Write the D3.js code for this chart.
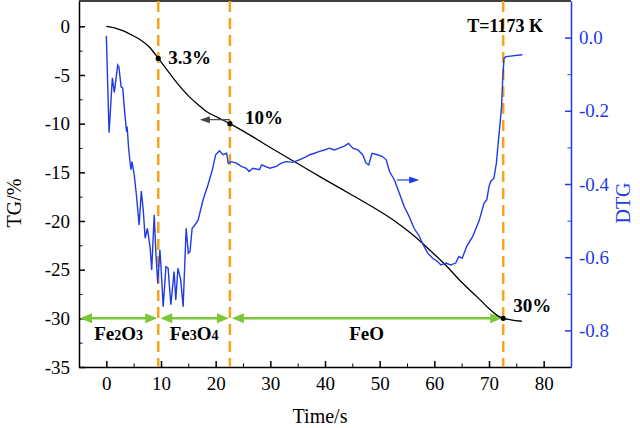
<!DOCTYPE html>
<html>
<head>
<meta charset="utf-8">
<script src="https://cdnjs.cloudflare.com/ajax/libs/d3/7.8.5/d3.min.js"></script>
<style>
  body { margin: 0; background: #fff; }
  svg { font-family: "Liberation Serif", "Times New Roman", serif; }
</style>
</head>
<body>
<svg id="chart" width="640" height="428"></svg>
<script>
// TG curve (time s, mass change %)
var tgTime = [0, 1.5, 3, 4.5, 6, 8, 9.5, 11, 12.2, 13.8, 15.3, 16.8, 18.3, 20.5, 22.6, 26.2, 30, 35, 40, 45, 50, 53, 56, 59, 62, 65, 68.2, 70, 71.8, 72.6, 74, 76];
var tgValue = [0, -0.15, -0.45, -0.85, -1.3, -2.2, -3.3, -4.4, -5.3, -6.4, -7.3, -8.05, -8.75, -9.4, -10.0, -11.15, -12.45, -14.1, -15.75, -17.35, -19.0, -20.1, -21.4, -22.9, -24.5, -26.3, -28.0, -29.0, -29.8, -30.0, -30.15, -30.3];

// DTG curve
var dtgTime = [0.0, 0.5, 1.1, 1.46, 2.08, 2.3, 2.7, 3.0, 3.4, 3.7, 3.8, 4.1, 4.5, 4.7, 5.1, 5.5, 6.0, 6.4, 6.75, 7.1, 7.5, 8.0, 8.3, 8.76, 9.07, 9.4, 9.8, 10.0, 10.4, 10.9, 11.3, 11.8, 12.4, 12.7, 13.1, 13.6, 14.05, 14.6, 15.0, 15.3, 15.7, 16.2, 16.8, 17.7, 18.6, 19.4, 20.0, 20.7, 21.35, 22.0, 22.3, 22.9, 23.8, 24.7, 25.6, 26.1, 26.8, 28.0, 28.4, 29.9, 31.1, 32.0, 32.9, 34.1, 35.3, 36.6, 37.2, 38.1, 39.0, 39.9, 40.8, 41.7, 42.6, 43.6, 44.3, 45.1, 46.0, 46.9, 47.5, 48.0, 48.6, 49.6, 50.5, 51.2, 51.8, 52.7, 53.6, 54.5, 55.4, 56.3, 57.3, 57.8, 58.8, 59.7, 60.6, 61.2, 62.1, 63.0, 63.9, 64.5, 65.1, 65.9, 67.0, 68.2, 69.1, 69.6, 70.0, 70.3, 70.9, 71.35, 71.8, 72.3, 72.5, 72.75, 73.1, 76.1];
var dtgValue = [0.005, -0.26, -0.11, -0.15, -0.075, -0.08, -0.134, -0.138, -0.211, -0.257, -0.243, -0.307, -0.361, -0.339, -0.375, -0.43, -0.512, -0.419, -0.471, -0.548, -0.521, -0.571, -0.635, -0.484, -0.589, -0.671, -0.58, -0.626, -0.735, -0.626, -0.63, -0.73, -0.639, -0.717, -0.63, -0.662, -0.735, -0.521, -0.589, -0.585, -0.521, -0.512, -0.498, -0.443, -0.402, -0.361, -0.32, -0.309, -0.32, -0.316, -0.343, -0.339, -0.343, -0.352, -0.357, -0.366, -0.357, -0.361, -0.348, -0.357, -0.352, -0.343, -0.339, -0.341, -0.334, -0.325, -0.32, -0.316, -0.311, -0.307, -0.302, -0.307, -0.302, -0.296, -0.289, -0.302, -0.307, -0.32, -0.343, -0.348, -0.316, -0.32, -0.325, -0.334, -0.366, -0.389, -0.425, -0.462, -0.489, -0.521, -0.544, -0.562, -0.589, -0.603, -0.612, -0.621, -0.616, -0.621, -0.616, -0.598, -0.603, -0.571, -0.544, -0.50, -0.452, -0.443, -0.407, -0.393, -0.384, -0.343, -0.27, -0.189, -0.116, -0.056, -0.052, -0.047];

// stage boundaries (time) and marked points
var phaseBounds = [-5, 9.5, 22.6, 72.6];
var phaseNames = [["Fe", "2", "O", "3"], ["Fe", "3", "O", "4"], ["FeO"]];
var markTime = [9.5, 22.6, 72.6];
var markTG = [-3.3, -10, -30];
var markLabel = ["3.3%", "10%", "30%"];

var xTicks = [0, 10, 20, 30, 40, 50, 60, 70, 80];
var yTicks = [0, -5, -10, -15, -20, -25, -30, -35];
var y2Ticks = [0.0, -0.2, -0.4, -0.6, -0.8];

var blue = "#1f3be6", orange = "#f4a51c", green = "#7cc63a";

var svg = d3.select("#chart");
var pL = 79, pR = 571, pT = 1, pB = 367;

var x = d3.scaleLinear().domain([-5, 85]).range([pL, pR]);
var y = d3.scaleLinear().domain([-35, 2.6]).range([pB, pT]);
var y2 = d3.scaleLinear().domain([-0.9, 0.1]).range([pB, pT]);

// frame top
svg.append("line").attr("x1", pL).attr("x2", pR).attr("y1", pT).attr("y2", pT)
  .attr("stroke", "#000").attr("stroke-width", 1.5);

// minor ticks
svg.append("g").attr("transform", "translate(0," + pB + ")")
  .call(d3.axisBottom(x).tickValues(d3.range(-5, 85, 10)).tickSize(-3.5).tickSizeOuter(0).tickFormat(""))
  .call(g => g.select(".domain").remove());
svg.append("g").attr("transform", "translate(" + pL + ",0)")
  .call(d3.axisLeft(y).tickValues(d3.range(-32.5, 2, 5)).tickSize(-3.5).tickSizeOuter(0).tickFormat(""))
  .call(g => g.select(".domain").remove());
svg.append("g").attr("transform", "translate(" + pR + ",0)")
  .call(d3.axisRight(y2).tickValues([-0.9, -0.7, -0.5, -0.3, -0.1]).tickSize(-3.5).tickSizeOuter(0).tickFormat(""))
  .call(g => g.select(".domain").remove())
  .selectAll("line").attr("stroke", blue);

// main axes
var gx = svg.append("g").attr("transform", "translate(0," + pB + ")")
  .call(d3.axisBottom(x).tickValues(xTicks).tickSize(-6).tickSizeOuter(0).tickPadding(10).tickFormat(d => d));
var gy = svg.append("g").attr("transform", "translate(" + pL + ",0)")
  .call(d3.axisLeft(y).tickValues(yTicks).tickSize(-6).tickSizeOuter(0).tickPadding(9).tickFormat(d => d));
var gy2 = svg.append("g").attr("transform", "translate(" + pR + ",0)")
  .call(d3.axisRight(y2).tickValues(y2Ticks).tickSize(-6).tickSizeOuter(0).tickPadding(8).tickFormat(d => d.toFixed(1)));

[gx, gy, gy2].forEach(g => {
  g.selectAll("text").attr("font-size", 19).attr("font-family", "Liberation Serif, Times New Roman, serif").attr("fill", "#000");
  g.selectAll("path,line").attr("stroke-width", 1.5);
});
gy2.selectAll("path,line").attr("stroke", blue);
gy2.selectAll("text").attr("fill", blue);

// axis titles
svg.append("text").attr("x", 320).attr("y", 423).attr("text-anchor", "middle")
  .attr("font-size", 20).text("Time/s");
svg.append("text").attr("transform", "translate(21,203) rotate(-90)").attr("text-anchor", "middle")
  .attr("font-size", 20).text("TG/%");
svg.append("text").attr("transform", "translate(630,203) rotate(-90)").attr("text-anchor", "middle")
  .attr("font-size", 20).attr("fill", blue).text("DTG");

// dashed stage lines
svg.selectAll("line.stage").data(markTime).enter().append("line").attr("class", "stage")
  .attr("x1", d => x(d)).attr("x2", d => x(d)).attr("y1", pT).attr("y2", pB)
  .attr("stroke", orange).attr("stroke-width", 2.5).attr("stroke-dasharray", "11,6");

// green double arrows
var ay = y(-30);
function head(px, dir) {
  var L = 12, W = 5;
  return [[px, ay], [px - dir * L, ay - W], [px - dir * L, ay + W]].join(" ");
}
for (var i = 0; i < phaseBounds.length - 1; i++) {
  var a = x(phaseBounds[i]) + 1, b = x(phaseBounds[i + 1]) - 1;
  if (i > 0) a = x(phaseBounds[i]) + 2;
  svg.append("line").attr("x1", a + 6).attr("x2", b - 6).attr("y1", ay).attr("y2", ay)
    .attr("stroke", green).attr("stroke-width", 2.5);
  svg.append("polygon").attr("points", head(a, -1)).attr("fill", green);
  svg.append("polygon").attr("points", head(b, 1)).attr("fill", green);
}

// phase labels
phaseNames.forEach((p, i) => {
  var t = svg.append("text").attr("x", x((phaseBounds[i] + phaseBounds[i + 1]) / 2)).attr("y", 340)
    .attr("text-anchor", "middle").attr("font-size", 19).attr("font-weight", "bold");
  p.forEach((s, j) => {
    var sub = j % 2 === 1;
    t.append("tspan").attr("font-size", sub ? 14 : 19).text(s);
  });
});

// TG line
var tgData = tgTime.map((t, i) => [t, tgValue[i]]);
svg.append("path").datum(tgData)
  .attr("d", d3.line().x(d => x(d[0])).y(d => y(d[1])).curve(d3.curveMonotoneX))
  .attr("fill", "none").attr("stroke", "#000").attr("stroke-width", 1.3);

// DTG line
var dtgData = dtgTime.map((t, i) => [t, dtgValue[i]]);
svg.append("path").datum(dtgData)
  .attr("d", d3.line().x(d => x(d[0])).y(d => y2(d[1])))
  .attr("fill", "none").attr("stroke", blue).attr("stroke-width", 1.4);

// marked points
svg.selectAll("circle.mark").data(markTime).enter().append("circle")
  .attr("cx", d => x(d)).attr("cy", (d, i) => y(markTG[i])).attr("r", 2.6).attr("fill", "#000");
var offs = [[10, 6], [15, 0], [10, -6]];
markLabel.forEach((s, i) => {
  svg.append("text").attr("x", x(markTime[i]) + offs[i][0]).attr("y", y(markTG[i]) + offs[i][1])
    .attr("font-size", 19).attr("font-weight", "bold").text(s);
});
svg.append("text").attr("x", x(72.6) + 2).attr("y", 32).attr("text-anchor", "middle")
  .attr("font-size", 18).attr("font-weight", "bold").text("T=1173 K");

// small direction arrows
var axL = x(22.6), ayL = y(-10) - 4;
svg.append("line").attr("x1", axL).attr("x2", axL - 22).attr("y1", ayL).attr("y2", ayL)
  .attr("stroke", "#444").attr("stroke-width", 1.2);
svg.append("polygon").attr("points", [[axL - 30, ayL], [axL - 20, ayL - 3.5], [axL - 20, ayL + 3.5]].join(" ")).attr("fill", "#444");
var bx = x(53.2), by = y2(-0.389);
svg.append("line").attr("x1", bx).attr("x2", bx + 14).attr("y1", by).attr("y2", by)
  .attr("stroke", blue).attr("stroke-width", 1.2);
svg.append("polygon").attr("points", [[bx + 22, by], [bx + 12, by - 3.5], [bx + 12, by + 3.5]].join(" ")).attr("fill", blue);
</script>
</body>
</html>
